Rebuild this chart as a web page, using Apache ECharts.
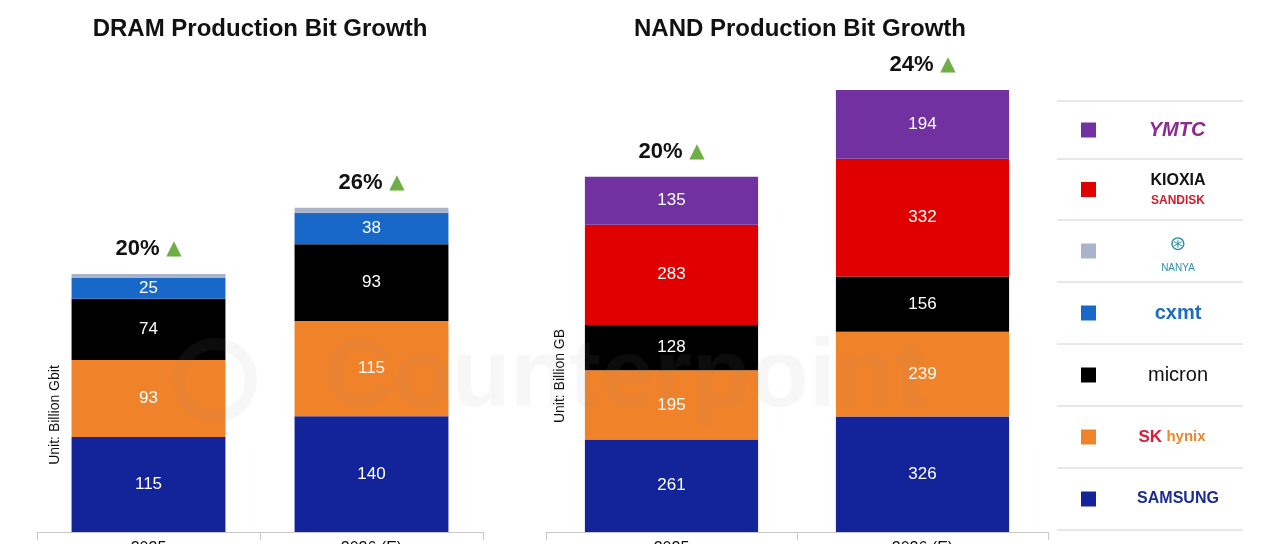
<!DOCTYPE html>
<html><head><meta charset="utf-8">
<script src="https://cdn.jsdelivr.net/npm/echarts@6/dist/echarts.min.js"></script>
<style>html,body{margin:0;padding:0;background:#fff}#c{width:1280px;height:544px}</style>
</head><body><div id="c"></div>
<script>
const categories = ['2025', '2026 (E)'];
const dramSamsung = [115, 140];
const dramHynix = [93, 115];
const dramMicron = [74, 93];
const dramCxmt = [25, 38];
const dramNanya = [5, 6];
const dramGrowth = ['20%', '26%'];
const nandSamsung = [261, 326];
const nandHynix = [195, 239];
const nandMicron = [128, 156];
const nandKioxia = [283, 332];
const nandYmtc = [135, 194];
const nandGrowth = ['20%', '24%'];

const C = {samsung:'#13249B', hynix:'#F0822A', micron:'#000000', cxmt:'#1768C9', nanya:'#AAB3C9', kioxia:'#E00000', ymtc:'#7131A1'};
const FONT = 'Liberation Sans, Arial, sans-serif';

const chart = echarts.init(document.getElementById('c'), null, {renderer:'canvas'});

function valLabel(show){
  return {show: show, position:'inside', color:'#fff', fontSize:17, fontFamily:FONT};
}
function growthLabel(g){
  return {show:true, position:'top', distance:14,
    formatter: p => '{p|' + g[p.dataIndex] + '}  {t|▲}',
    rich:{p:{fontSize:22, fontWeight:'bold', color:'#111', fontFamily:FONT},
          t:{fontSize:20, color:'#6FAE45', fontFamily:'DejaVu Sans'}}};
}
function bar(name, data, color, xi, stack, label){
  return {type:'bar', name, data, stack, xAxisIndex:xi, yAxisIndex:xi, barWidth:'69%',
    itemStyle:{color}, label, emphasis:{disabled:true}, silent:true};
}

const xAxisCommon = {type:'category', data:categories,
  axisLine:{lineStyle:{color:'#c8c8c8'}}, axisTick:{show:true, length:8, lineStyle:{color:'#c8c8c8'}},
  axisLabel:{color:'#111', fontSize:16, fontFamily:FONT, margin:9}};

const legendRows = [
  {color:C.ymtc}, {color:C.kioxia}, {color:C.nanya}, {color:C.cxmt},
  {color:C.micron}, {color:C.hynix}, {color:C.samsung}
];
const lineYs = [101,159,220,282,344,406,468,530];
const graphics = [];
lineYs.forEach(y => graphics.push({type:'line', shape:{x1:1057,y1:y,x2:1243,y2:y}, style:{stroke:'#d0d0d0', lineWidth:1}}));
legendRows.forEach((r,i) => {
  const cy = (lineYs[i]+lineYs[i+1])/2;
  graphics.push({type:'rect', shape:{x:1081, y:cy-7.5, width:15, height:15}, style:{fill:r.color}});
});
function txt(x,y,text,style,extra){
  graphics.push(Object.assign({type:'text', x, y, style:Object.assign({text, align:'center', verticalAlign:'middle', fontFamily:FONT}, style)}, extra||{}));
}
const rc = i => (lineYs[i]+lineYs[i+1])/2;
txt(1177, rc(0), 'YMTC', {fontSize:20, fontWeight:'bold', fill:'#8E2A8E', fontStyle:'italic'});
txt(1178, rc(1)-9, 'KIOXIA', {fontSize:16, fontWeight:'bold', fill:'#111'});
txt(1178, rc(1)+11, 'SANDISK', {fontSize:12, fill:'#D01E2E', fontWeight:'bold'});
txt(1178, rc(2)-6, '⊛', {fontSize:20, fill:'#2F8FB0', fontFamily:'DejaVu Sans'});
txt(1178, rc(2)+17, 'NANYA', {fontSize:10, fill:'#2F8FB0'});
txt(1178, rc(3), 'cxmt', {fontSize:20, fontWeight:'bold', fill:'#1F6CC0'});
txt(1178, rc(4), 'micron', {fontSize:20, fill:'#111'});
txt(1172, rc(5), '{a|SK} {b|hynix}', {fontSize:16, rich:{a:{fontSize:17, fontWeight:'bold', fill:'#D0203A', fontFamily:FONT}, b:{fontSize:15, fontWeight:'bold', fill:'#E8892C', fontFamily:FONT}}});
txt(1178, rc(6), 'SAMSUNG', {fontSize:16, fontWeight:'bold', fill:'#1B2D8F'});
// titles
txt(260, 29, 'DRAM Production Bit Growth', {fontSize:24, fontWeight:'bold', fill:'#111'});
txt(800, 29, 'NAND Production Bit Growth', {fontSize:24, fontWeight:'bold', fill:'#111'});
// axis names
txt(55, 415, 'Unit: Billion Gbit', {fontSize:14, fill:'#111'}, {rotation:Math.PI/2});
txt(560, 376, 'Unit: Billion GB', {fontSize:14, fill:'#111'}, {rotation:Math.PI/2});
// watermark
graphics.push({type:'text', x:625, y:380, z:100, style:{text:'Counterpoint', align:'center', verticalAlign:'middle', fontSize:96, fontWeight:'bold', fontFamily:FONT, fill:'rgba(150,150,150,0.08)'}});
graphics.push({type:'circle', z:100, shape:{cx:215, cy:380, r:36}, style:{fill:'none', stroke:'rgba(150,150,150,0.08)', lineWidth:12}});

chart.setOption({
  animation:false,
  backgroundColor:'#fff',
  grid:[
    {left:37, width:446, bottom:12, top:118.5, outerBoundsMode:'none', containLabel:false},
    {left:546, width:502, bottom:12, top:532-0.3545*1400, outerBoundsMode:'none', containLabel:false}
  ],
  xAxis:[Object.assign({gridIndex:0}, xAxisCommon), Object.assign({gridIndex:1}, xAxisCommon)],
  yAxis:[
    {gridIndex:0, type:'value', min:0, max:500, show:false, splitLine:{show:false}},
    {gridIndex:1, type:'value', min:0, max:1400, show:false, splitLine:{show:false}}
  ],
  series:[
    bar('Samsung', dramSamsung, C.samsung, 0, 'd', valLabel(true)),
    bar('SK hynix', dramHynix, C.hynix, 0, 'd', valLabel(true)),
    bar('Micron', dramMicron, C.micron, 0, 'd', valLabel(true)),
    bar('CXMT', dramCxmt, C.cxmt, 0, 'd', valLabel(true)),
    bar('Nanya', dramNanya, C.nanya, 0, 'd', growthLabel(dramGrowth)),
    bar('Samsung', nandSamsung, C.samsung, 1, 'n', valLabel(true)),
    bar('SK hynix', nandHynix, C.hynix, 1, 'n', valLabel(true)),
    bar('Micron', nandMicron, C.micron, 1, 'n', valLabel(true)),
    bar('Kioxia/Sandisk', nandKioxia, C.kioxia, 1, 'n', valLabel(true)),
    bar('YMTC', nandYmtc, C.ymtc, 1, 'n', valLabel(true)),
    {type:'bar', xAxisIndex:1, yAxisIndex:1, stack:'n', data:[0,0], barWidth:'69%', silent:true,
      itemStyle:{color:'transparent'}, label:growthLabel(nandGrowth)}
  ],
  graphic:graphics
});
</script></body></html>
